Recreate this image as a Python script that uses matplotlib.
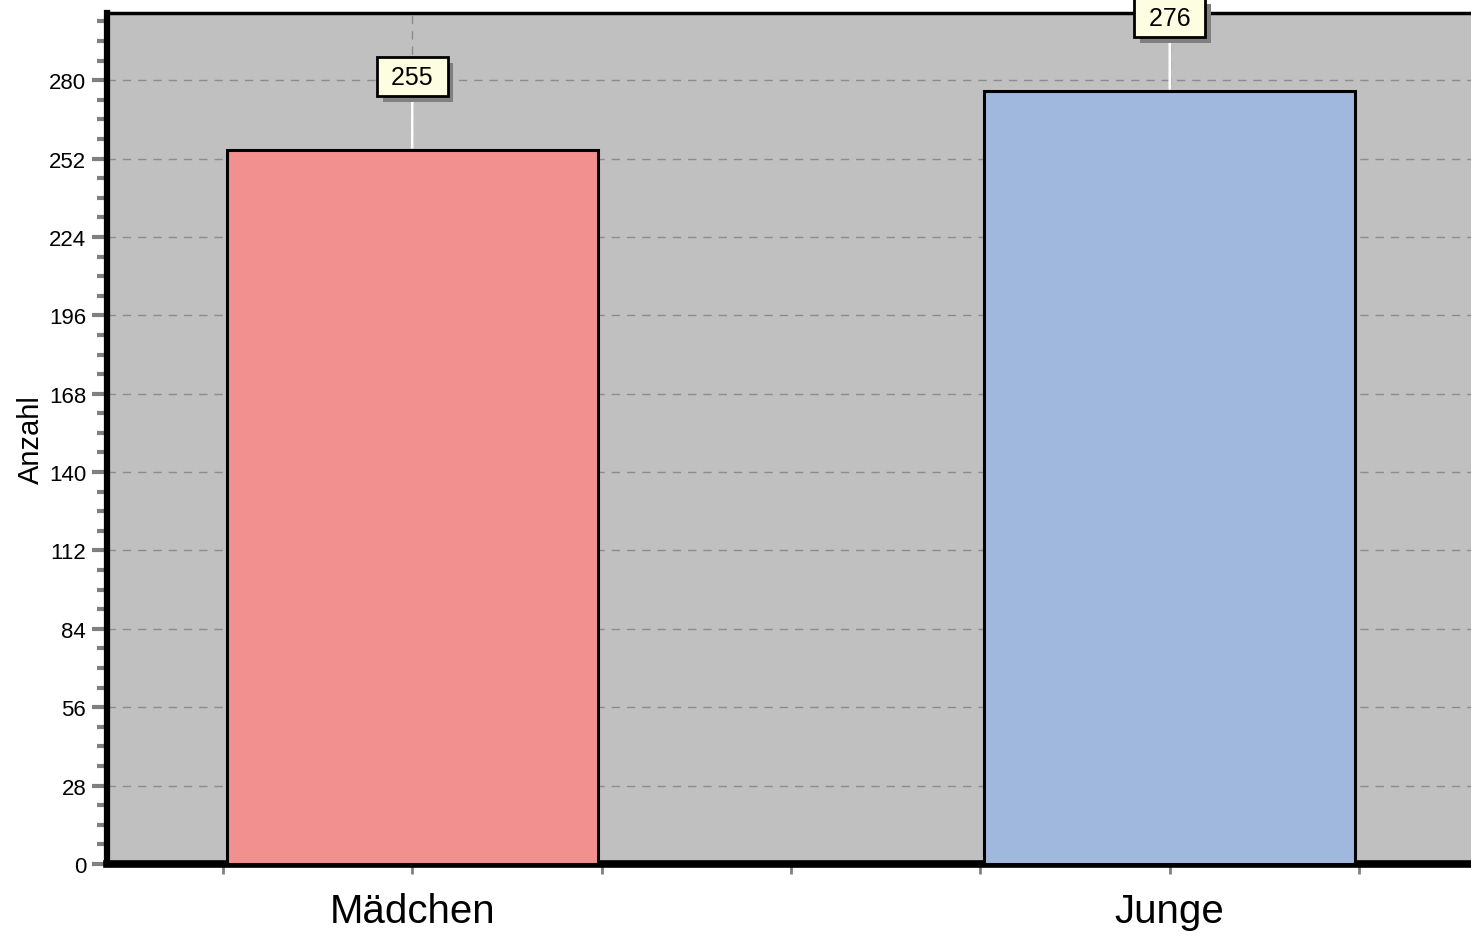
import numpy as np
import matplotlib.pyplot as plt
import matplotlib.patheffects as pe
from matplotlib.ticker import MultipleLocator

plt.rcParams['font.family'] = ['Liberation Sans', 'DejaVu Sans']

categories = ['Mädchen', 'Junge']
counts = [255, 276]
colors = ['#f28f8f', '#a1b8de']

fig = plt.figure(figsize=(14.71, 9.37), dpi=100)
ax = fig.add_axes([107/1471, 1-865/937, (1475-107)/1471, (865-14)/937])
ax.set_facecolor('#c0c0c0')

x = np.arange(len(categories))
ax.bar(x, counts, width=0.49, color=colors, edgecolor='black', linewidth=2.2, zorder=3)

ax.set_xlim(-0.403, 1.403)
ax.set_ylim(0, 304)
ax.set_xticks(x)
ax.set_xticklabels(categories)
ax.xaxis.set_minor_locator(MultipleLocator(0.25))
ax.yaxis.set_major_locator(MultipleLocator(28))
ax.yaxis.set_minor_locator(MultipleLocator(7))
ax.tick_params(axis='y', which='major', length=11, width=3, color='#808080', labelsize=16, pad=4)
ax.tick_params(axis='y', which='minor', length=7, width=3, color='#808080')
ax.tick_params(axis='x', which='both', length=7, width=2, color='#808080', labelsize=29, pad=13)
ax.set_ylabel('Anzahl', fontsize=21, labelpad=3)

ax.grid(True, which='major', axis='both', color='#8c8c8c', linestyle=(0, (6, 5)), linewidth=1, zorder=1)
ax.set_axisbelow(True)

ax.spines['left'].set_linewidth(4.5)
ax.spines['bottom'].set_linewidth(5.5)
ax.spines['top'].set_linewidth(2.5)
ax.spines['right'].set_visible(False)

for xi, v in zip(x, counts):
    ax.annotate('', xy=(xi, v), xytext=(0, 42), textcoords='offset points',
                arrowprops=dict(arrowstyle='-', color='white', lw=1.8), zorder=4, annotation_clip=False)
    t = ax.annotate(' ' + str(v) + ' ', xy=(xi, v), xytext=(0, 53), textcoords='offset points',
                    ha='center', va='center', fontsize=18, color='black',
                    bbox=dict(boxstyle='square,pad=0.3', fc='#fdfde2', ec='black', lw=2),
                    zorder=6, annotation_clip=False)
    t.get_bbox_patch().set_path_effects([
        pe.SimplePatchShadow(offset=(4, -4), shadow_rgbFace='#808080', alpha=1.0),
        pe.Normal()])

fig.savefig('out.png', dpi=100)
